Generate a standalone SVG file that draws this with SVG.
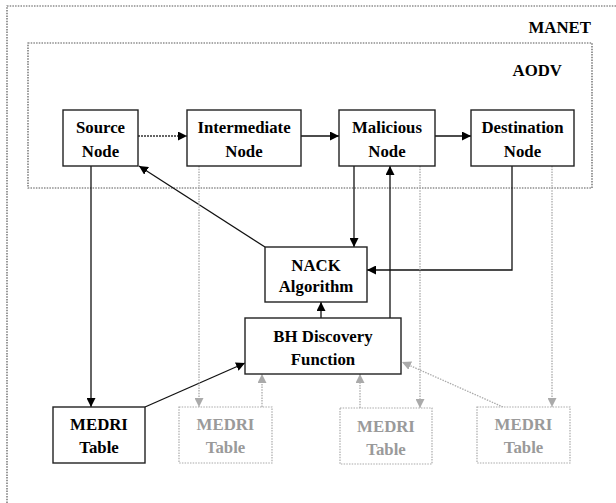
<svg xmlns="http://www.w3.org/2000/svg" width="616" height="503" viewBox="0 0 616 503">
  <style>
    .box { fill: #fff; stroke: #222; stroke-width: 1.4; }
    .ghost { fill: #fff; stroke: #aaa; stroke-width: 1.2; stroke-dasharray: 1.5 1.2; }
    .frame { fill: none; stroke: #555; stroke-width: 1.2; stroke-dasharray: 1.5 1.2; }
    .lbl { font-family: "Liberation Serif", "Times New Roman", serif; font-weight: bold; font-size: 16.8px; text-anchor: middle; fill: #000; }
    .lbl-g { fill: #9a9a9a; font-weight: bold; }
    .ttl { font-family: "Liberation Serif", "Times New Roman", serif; font-weight: bold; font-size: 16.8px; text-anchor: end; fill: #000; }
    .wire { fill: none; stroke: #111; stroke-width: 1.3; }
    .wire-d { fill: none; stroke: #333; stroke-width: 1.3; stroke-dasharray: 2 1; }
    .wire-g { fill: none; stroke: #aaa; stroke-width: 1.3; stroke-dasharray: 1.5 1.2; }
  </style>
  <defs>
    <marker id="ah" viewBox="0 0 10 10" refX="10" refY="5" markerWidth="9" markerHeight="9" markerUnits="userSpaceOnUse" orient="auto">
      <path d="M0,0 L10,5 L0,10 z" fill="#000"/>
    </marker>
    <marker id="ah-g" viewBox="0 0 10 10" refX="10" refY="5" markerWidth="9" markerHeight="9" markerUnits="userSpaceOnUse" orient="auto">
      <path d="M0,0 L10,5 L0,10 z" fill="#aaa"/>
    </marker>
  </defs>

  <rect width="616" height="503" fill="#fff"/>

  <!-- network boundaries -->
  <g id="manet">
    <rect class="frame" x="7" y="6" width="620" height="510"/>
    <text class="ttl" x="591" y="33">MANET</text>
  </g>
  <g id="aodv">
    <rect class="frame" x="28" y="43" width="564" height="145"/>
    <text class="ttl" x="562" y="76">AODV</text>
  </g>

  <!-- connectors -->
  <g id="connectors">
    <line class="wire-d" x1="138" y1="136" x2="187" y2="136" marker-end="url(#ah)"/>
    <line class="wire" x1="301" y1="136" x2="339" y2="136" marker-end="url(#ah)"/>
    <line class="wire" x1="435" y1="136" x2="471" y2="136" stroke="#444" marker-end="url(#ah)"/>
    <line class="wire" x1="91" y1="166" x2="91" y2="407" marker-end="url(#ah)"/>
    <line class="wire" x1="265" y1="247" x2="139" y2="166" marker-end="url(#ah)"/>
    <line class="wire" x1="354" y1="166" x2="354" y2="247" marker-end="url(#ah)"/>
    <line class="wire" x1="390" y1="318" x2="390" y2="166" marker-end="url(#ah)"/>
    <polyline class="wire" points="512,166 512,270 367,270" marker-end="url(#ah)"/>
    <line class="wire" x1="321" y1="318" x2="321" y2="302" marker-end="url(#ah)"/>
    <line class="wire" x1="145" y1="407" x2="245" y2="363" marker-end="url(#ah)"/>
    <line class="wire-g" x1="199" y1="166" x2="199" y2="407" marker-end="url(#ah-g)"/>
    <line class="wire-g" x1="262" y1="407" x2="262" y2="374" marker-end="url(#ah-g)"/>
    <line class="wire-g" x1="420" y1="166" x2="420" y2="408" marker-end="url(#ah-g)"/>
    <line class="wire-g" x1="360" y1="408" x2="360" y2="374" marker-end="url(#ah-g)"/>
    <line class="wire-g" x1="552" y1="166" x2="552" y2="407" marker-end="url(#ah-g)"/>
    <line class="wire-g" x1="503" y1="407" x2="402" y2="362" marker-end="url(#ah-g)"/>
  </g>

  <!-- nodes -->
  <g id="source-node">
    <rect class="box" x="63" y="110" width="75" height="56"/>
    <text class="lbl" x="100.5" y="133">Source</text>
    <text class="lbl" x="100.5" y="157">Node</text>
  </g>
  <g id="intermediate-node">
    <rect class="box" x="187" y="110" width="114" height="56"/>
    <text class="lbl" x="244" y="133">Intermediate</text>
    <text class="lbl" x="244" y="157">Node</text>
  </g>
  <g id="malicious-node">
    <rect class="box" x="339" y="110" width="96" height="56"/>
    <text class="lbl" x="387" y="133">Malicious</text>
    <text class="lbl" x="387" y="157">Node</text>
  </g>
  <g id="destination-node">
    <rect class="box" x="471" y="110" width="103" height="56"/>
    <text class="lbl" x="522.5" y="133">Destination</text>
    <text class="lbl" x="522.5" y="157">Node</text>
  </g>
  <g id="nack-algorithm">
    <rect class="box" x="265" y="247" width="102" height="55"/>
    <text class="lbl" x="316" y="271">NACK</text>
    <text class="lbl" x="316" y="292">Algorithm</text>
  </g>
  <g id="bh-discovery">
    <rect class="box" x="245" y="318" width="156" height="56"/>
    <text class="lbl" x="323" y="342">BH Discovery</text>
    <text class="lbl" x="323" y="365">Function</text>
  </g>
  <g id="medri-source">
    <rect class="box" x="53" y="407" width="92" height="56"/>
    <text class="lbl" x="99" y="430">MEDRI</text>
    <text class="lbl" x="99" y="453">Table</text>
  </g>
  <g id="medri-intermediate">
    <rect class="ghost" x="179" y="407" width="93" height="56"/>
    <text class="lbl lbl-g" x="225.5" y="430">MEDRI</text>
    <text class="lbl lbl-g" x="225.5" y="453">Table</text>
  </g>
  <g id="medri-malicious">
    <rect class="ghost" x="340" y="408" width="92" height="56"/>
    <text class="lbl lbl-g" x="386" y="432">MEDRI</text>
    <text class="lbl lbl-g" x="386" y="455">Table</text>
  </g>
  <g id="medri-destination">
    <rect class="ghost" x="477" y="407" width="93" height="56"/>
    <text class="lbl lbl-g" x="523.5" y="430">MEDRI</text>
    <text class="lbl lbl-g" x="523.5" y="453">Table</text>
  </g>
</svg>
